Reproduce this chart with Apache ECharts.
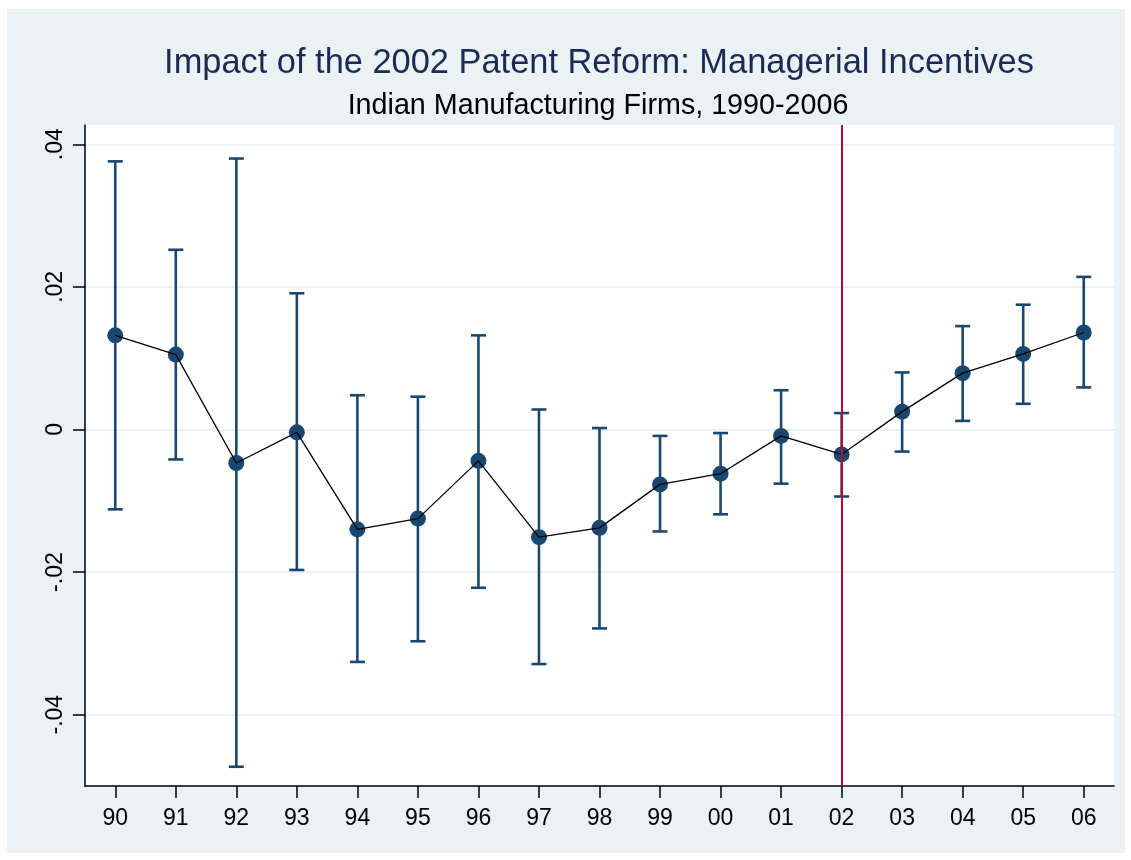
<!DOCTYPE html>
<html>
<head>
<meta charset="utf-8">
<script src="https://cdn.jsdelivr.net/npm/echarts@6/dist/echarts.min.js"></script>
<style>
html,body{margin:0;padding:0;background:#ffffff;}
#bg{position:absolute;left:7px;top:9px;width:1118px;height:844px;background:#EAF2F3;}
#chart{position:absolute;left:0;top:0;width:1131px;height:860px;}
</style>
</head>
<body>
<div id="bg"></div>
<div id="chart"></div>
<script>
const years = ['90','91','92','93','94','95','96','97','98','99','00','01','02','03','04','05','06'];
const coef  = [0.0132, 0.0105, -0.0047, -0.0004, -0.0140, -0.0125, -0.0044, -0.0151, -0.0138, -0.0077, -0.0062, -0.0009, -0.0035, 0.0025, 0.0079, 0.0106, 0.0136];
const upper = [0.0376, 0.0252, 0.0380, 0.0191, 0.0048, 0.0046, 0.0132, 0.0028, 0.0002, -0.0009, -0.0005, 0.0055, 0.0023, 0.0080, 0.0145, 0.0175, 0.0214];
const lower = [-0.0112, -0.0042, -0.0473, -0.0197, -0.0326, -0.0297, -0.0222, -0.0329, -0.0279, -0.0143, -0.0119, -0.0076, -0.0094, -0.0031, 0.0012, 0.0036, 0.0059];
const yTicks = [-0.04, -0.02, 0, 0.02, 0.04];
const reformYear = '02';
const titleText = 'Impact of the 2002 Patent Reform: Managerial Incentives';
const subtitleText = 'Indian Manufacturing Firms, 1990-2006';

const FONT = '"Liberation Sans", Arial, Helvetica, sans-serif';
const NAVY = '#1A476F';

function fmt(v) {
  if (Math.abs(v) < 1e-9) return '0';
  const s = Math.abs(v).toFixed(2).replace(/^0/, '');
  return (v < 0 ? '-' : '') + s;
}

const errData = years.map((y, i) => [i, lower[i], upper[i]]);

const chart = echarts.init(document.getElementById('chart'), null, {renderer: 'canvas'});
chart.setOption({
  animation: false,
  backgroundColor: 'transparent',
  title: [
    {text: titleText, left: 599, top: 47, textAlign: 'center', padding: 0,
     textStyle: {fontFamily: FONT, fontSize: 34.4, fontWeight: 'normal', color: '#1C2A55'}},
    {text: subtitleText, left: 598, top: 92, textAlign: 'center', padding: 0,
     textStyle: {fontFamily: FONT, fontSize: 28.7, fontWeight: 'normal', color: '#000000'}}
  ],
  grid: {left: 85, right: 17, top: 125, bottom: 74, show: true, backgroundColor: '#ffffff', borderWidth: 0},
  xAxis: {
    type: 'category', data: years, boundaryGap: true,
    axisLine: {show: true, onZero: false, lineStyle: {color: '#000000', width: 1.5}},
    axisTick: {show: true, alignWithLabel: true, interval: 0, length: 12, lineStyle: {color: '#000000', width: 1.5}},
    axisLabel: {interval: 0, margin: 21, fontFamily: FONT, fontSize: 23, color: '#000000'},
    splitLine: {show: false}
  },
  yAxis: {
    type: 'value', min: -0.05, max: 0.0427,
    axisLine: {show: true, onZero: false, lineStyle: {color: '#000000', width: 1.5}},
    axisTick: {show: true, length: 12, customValues: yTicks, lineStyle: {color: '#000000', width: 1.5}},
    axisLabel: {customValues: yTicks, rotate: 90, margin: 18, fontFamily: FONT, fontSize: 23, color: '#000000', formatter: fmt},
    splitLine: {show: true, lineStyle: {color: '#EAF2F3', width: 2}}
  },
  series: [
    {
      type: 'line', data: [], z: 1, silent: true,
      markLine: {
        symbol: 'none', silent: true, label: {show: false},
        lineStyle: {color: '#C10534', width: 2, type: 'solid'},
        data: [{xAxis: reformYear}]
      }
    },
    {
      type: 'custom', z: 2, data: errData,
      renderItem: function (params, api) {
        const x = api.value(0);
        const lo = api.coord([x, api.value(1)]);
        const hi = api.coord([x, api.value(2)]);
        const hw = 7.5;
        const st = {stroke: NAVY, lineWidth: 2.6};
        return {
          type: 'group',
          children: [
            {type: 'line', shape: {x1: lo[0], y1: lo[1], x2: hi[0], y2: hi[1]}, style: st},
            {type: 'line', shape: {x1: lo[0]-hw, y1: lo[1], x2: lo[0]+hw, y2: lo[1]}, style: st},
            {type: 'line', shape: {x1: hi[0]-hw, y1: hi[1], x2: hi[0]+hw, y2: hi[1]}, style: st}
          ]
        };
      }
    },
    {
      type: 'scatter', z: 3, data: coef, symbol: 'circle', symbolSize: 16,
      itemStyle: {color: NAVY, opacity: 1}
    },
    {
      type: 'line', z: 4, data: coef, symbol: 'none',
      lineStyle: {color: '#000000', width: 1.3}
    }
  ]
});
</script>
</body>
</html>
